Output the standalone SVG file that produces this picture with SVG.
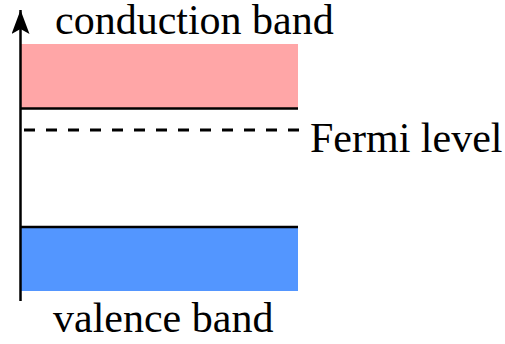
<svg xmlns="http://www.w3.org/2000/svg" width="505" height="344" viewBox="0 0 505 344">
  <style>
    .label { font-family: "Times New Roman", Times, "Liberation Serif", Tinos, "Noto Serif", "DejaVu Serif", serif; font-size: 42px; fill: #000; }
    .edge { stroke: #000; stroke-width: 2.5; fill: none; }
  </style>
  <defs>
    <marker id="arrow" markerUnits="userSpaceOnUse" markerWidth="24" markerHeight="18" refX="24" refY="9" orient="auto" viewBox="0 0 24 18">
      <path d="M24 9 L0 0 L5 9 L0 18 Z" fill="#000"/>
    </marker>
  </defs>
  <rect width="505" height="344" fill="#fff"/>

  <!-- conduction band -->
  <g id="conduction-band">
    <rect x="21" y="44" width="277" height="64" fill="#ffa6a7"/>
    <line class="edge" x1="21" y1="108.5" x2="298" y2="108.5"/>
    <text class="label" x="55" y="34">conduction band</text>
  </g>

  <!-- Fermi level -->
  <g id="fermi-level">
    <line x1="24" y1="130" x2="299" y2="130" stroke="#000" stroke-width="3" stroke-dasharray="11 11"/>
    <text class="label" x="310" y="152">Fermi level</text>
  </g>

  <!-- valence band -->
  <g id="valence-band">
    <rect x="21" y="227" width="277" height="64" fill="#5396ff"/>
    <line class="edge" x1="21" y1="227" x2="298" y2="227"/>
    <text class="label" x="53" y="332">valence band</text>
  </g>

  <!-- energy axis -->
  <g id="connectors">
    <line class="edge" x1="20.5" y1="301" x2="20.5" y2="10" marker-end="url(#arrow)"/>
  </g>
</svg>
